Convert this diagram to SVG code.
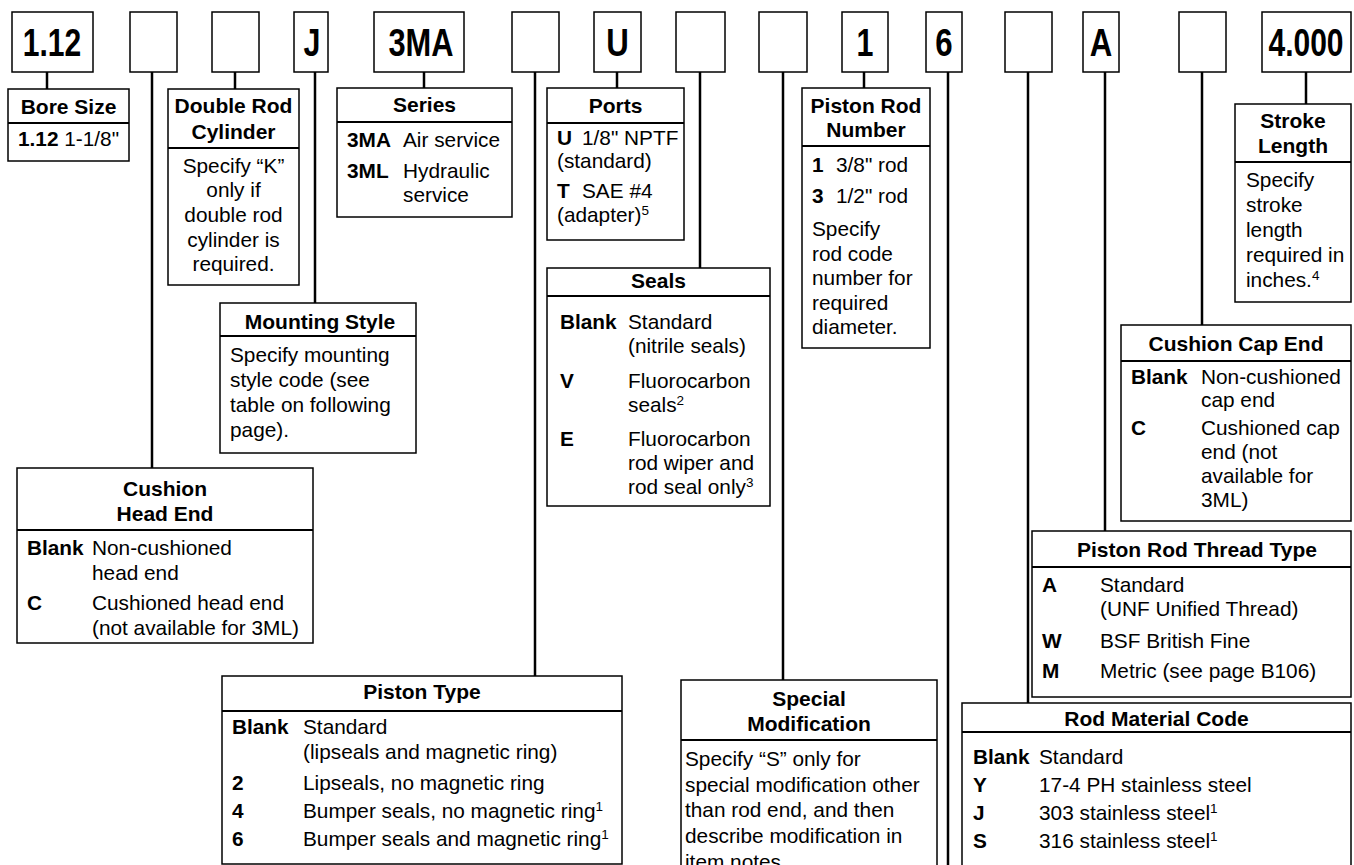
<svg xmlns="http://www.w3.org/2000/svg" width="1354" height="865" viewBox="0 0 1354 865">
<style>
.bx{fill:#fff;stroke:#000;stroke-width:1.5}
.dv{stroke:#000;stroke-width:2.2}
.con{stroke:#000;stroke-width:2.5;fill:none}
text{font-family:"Liberation Sans",Arial,Helvetica,sans-serif;fill:#000}
.code{font-weight:bold;font-size:39px;text-anchor:middle}
.h{font-weight:bold;font-size:21px;text-anchor:middle}
.t{font-size:20.8px}
.c{text-anchor:middle}
.b{font-weight:bold}
.sup{font-size:13.5px}
</style>
<rect width="1354" height="865" fill="#fff"/>
<g id="connectors">
<path class="con" d="M47 72V89M152 72V468M235 72V89M315 72V303M424 72V88M535 72V676M617 72V88M700 72V268M783 72V680M864 72V88M948 72V865M1028 72V703M1105 72V531M1202 72V325M1306 72V104"/>
</g>
<g id="codes">
<rect class="bx" x="12" y="12" width="81" height="60"/><text class="code" transform="translate(52 55.5) scale(0.77 1)">1.12</text>
<rect class="bx" x="130" y="12" width="47" height="60"/>
<rect class="bx" x="212" y="12" width="47" height="60"/>
<rect class="bx" x="294" y="12" width="34" height="60"/><text class="code" transform="translate(312 55.5) scale(0.78 1)">J</text>
<rect class="bx" x="374" y="12" width="90" height="60"/><text class="code" transform="translate(421 55.5) scale(0.79 1)">3MA</text>
<rect class="bx" x="512" y="12" width="47" height="60"/>
<rect class="bx" x="594" y="12" width="47" height="60"/><text class="code" transform="translate(617.5 55.5) scale(0.8 1)">U</text>
<rect class="bx" x="676" y="12" width="49" height="60"/>
<rect class="bx" x="759" y="12" width="48" height="60"/>
<rect class="bx" x="842" y="12" width="46" height="60"/><text class="code" transform="translate(865 55.5) scale(0.78 1)">1</text>
<rect class="bx" x="926" y="12" width="36" height="60"/><text class="code" transform="translate(944 55.5) scale(0.8 1)">6</text>
<rect class="bx" x="1005" y="12" width="47" height="60"/>
<rect class="bx" x="1083" y="12" width="36" height="60"/><text class="code" transform="translate(1101 55.5) scale(0.8 1)">A</text>
<rect class="bx" x="1179" y="12" width="47" height="60"/>
<rect class="bx" x="1262" y="12" width="89" height="60"/><text class="code" transform="translate(1306 55.5) scale(0.77 1)">4.000</text>
</g>
<g id="bore-size">
<rect class="bx" x="8" y="89" width="121" height="72"/><line class="dv" x1="8" y1="123" x2="129" y2="123"/>
<text class="h" x="68.5" y="114">Bore Size</text>
<text class="t" x="18" y="146"><tspan class="b">1.12</tspan> 1-1/8"</text>
</g>
<g id="double-rod">
<rect class="bx" x="168" y="89" width="131" height="196"/><line class="dv" x1="168" y1="148" x2="299" y2="148"/>
<text class="h" x="233.5" y="113">Double Rod</text><text class="h" x="233.5" y="139">Cylinder</text>
<text class="t c" x="233.5" y="173">Specify “K”</text>
<text class="t c" x="233.5" y="197">only if</text>
<text class="t c" x="233.5" y="222">double rod</text>
<text class="t c" x="233.5" y="247">cylinder is</text>
<text class="t c" x="233.5" y="271">required.</text>
</g>
<g id="series">
<rect class="bx" x="337" y="88" width="175" height="129"/><line class="dv" x1="337" y1="122" x2="512" y2="122"/>
<text class="h" x="424.5" y="112">Series</text>
<text class="t b" x="347" y="147">3MA</text><text class="t" x="403" y="147">Air service</text>
<text class="t b" x="347" y="178">3ML</text><text class="t" x="403" y="178">Hydraulic</text>
<text class="t" x="403" y="202">service</text>
</g>
<g id="ports">
<rect class="bx" x="547" y="88" width="137" height="152"/><line class="dv" x1="547" y1="123" x2="684" y2="123"/>
<text class="h" x="615.5" y="113">Ports</text>
<text class="t b" x="557" y="145">U</text><text class="t" x="582" y="145">1/8" NPTF</text>
<text class="t" x="557" y="168">(standard)</text>
<text class="t b" x="557" y="198">T</text><text class="t" x="582" y="198">SAE #4</text>
<text class="t" x="557" y="222">(adapter)<tspan class="sup" dy="-7">5</tspan></text>
</g>
<g id="mounting-style">
<rect class="bx" x="220" y="303" width="196" height="150"/><line class="dv" x1="220" y1="336" x2="416" y2="336"/>
<text class="h" x="320" y="329">Mounting Style</text>
<text class="t" x="230" y="362">Specify mounting</text>
<text class="t" x="230" y="387">style code (see</text>
<text class="t" x="230" y="412">table on following</text>
<text class="t" x="230" y="437">page).</text>
</g>
<g id="cushion-head-end">
<rect class="bx" x="17" y="468" width="296" height="175"/><line class="dv" x1="17" y1="530" x2="313" y2="530"/>
<text class="h" x="165" y="496">Cushion</text><text class="h" x="165" y="521">Head End</text>
<text class="t b" x="27" y="555">Blank</text><text class="t" x="92" y="555">Non-cushioned</text>
<text class="t" x="92" y="580">head end</text>
<text class="t b" x="27" y="610">C</text><text class="t" x="92" y="610">Cushioned head end</text>
<text class="t" x="92" y="635">(not available for 3ML)</text>
</g>
<g id="seals">
<rect class="bx" x="547" y="268" width="223" height="238"/><line class="dv" x1="547" y1="296" x2="770" y2="296"/>
<text class="h" x="658.5" y="288">Seals</text>
<text class="t b" x="560" y="329">Blank</text><text class="t" x="628" y="329">Standard</text>
<text class="t" x="628" y="353">(nitrile seals)</text>
<text class="t b" x="560" y="388">V</text><text class="t" x="628" y="388">Fluorocarbon</text>
<text class="t" x="628" y="412">seals<tspan class="sup" dy="-7">2</tspan></text>
<text class="t b" x="560" y="446">E</text><text class="t" x="628" y="446">Fluorocarbon</text>
<text class="t" x="628" y="470">rod wiper and</text>
<text class="t" x="628" y="494">rod seal only<tspan class="sup" dy="-7">3</tspan></text>
</g>
<g id="piston-rod-number">
<rect class="bx" x="802" y="88" width="128" height="260"/><line class="dv" x1="802" y1="146" x2="930" y2="146"/>
<text class="h" x="866" y="113">Piston Rod</text><text class="h" x="866" y="137">Number</text>
<text class="t b" x="812" y="172">1</text><text class="t" x="836" y="172">3/8" rod</text>
<text class="t b" x="812" y="203">3</text><text class="t" x="836" y="203">1/2" rod</text>
<text class="t" x="812" y="236">Specify</text>
<text class="t" x="812" y="260.5">rod code</text>
<text class="t" x="812" y="285">number for</text>
<text class="t" x="812" y="309.5">required</text>
<text class="t" x="812" y="334">diameter.</text>
</g>
<g id="stroke-length">
<rect class="bx" x="1235" y="104" width="116" height="198"/><line class="dv" x1="1235" y1="162" x2="1351" y2="162"/>
<text class="h" x="1293" y="128">Stroke</text><text class="h" x="1293" y="153">Length</text>
<text class="t" x="1246" y="187">Specify</text>
<text class="t" x="1246" y="212">stroke</text>
<text class="t" x="1246" y="237">length</text>
<text class="t" x="1246" y="262">required in</text>
<text class="t" x="1246" y="287">inches.<tspan class="sup" dy="-7">4</tspan></text>
</g>
<g id="cushion-cap-end">
<rect class="bx" x="1121" y="325" width="230" height="196"/><line class="dv" x1="1121" y1="361" x2="1351" y2="361"/>
<text class="h" x="1236" y="351">Cushion Cap End</text>
<text class="t b" x="1131" y="384">Blank</text><text class="t" x="1201" y="384">Non-cushioned</text>
<text class="t" x="1201" y="407">cap end</text>
<text class="t b" x="1131" y="435">C</text><text class="t" x="1201" y="435">Cushioned cap</text>
<text class="t" x="1201" y="459">end (not</text>
<text class="t" x="1201" y="483">available for</text>
<text class="t" x="1201" y="507">3ML)</text>
</g>
<g id="piston-rod-thread-type">
<rect class="bx" x="1032" y="531" width="319" height="166"/><line class="dv" x1="1032" y1="567" x2="1351" y2="567"/>
<text class="h" x="1197" y="557">Piston Rod Thread Type</text>
<text class="t b" x="1042" y="592">A</text><text class="t" x="1100" y="592">Standard</text>
<text class="t" x="1100" y="616">(UNF Unified Thread)</text>
<text class="t b" x="1042" y="648">W</text><text class="t" x="1100" y="648">BSF British Fine</text>
<text class="t b" x="1042" y="678">M</text><text class="t" x="1100" y="678">Metric (see page B106)</text>
</g>
<g id="piston-type">
<rect class="bx" x="222" y="676" width="400" height="188"/><line class="dv" x1="222" y1="711" x2="622" y2="711"/>
<text class="h" x="422" y="699">Piston Type</text>
<text class="t b" x="232" y="734">Blank</text><text class="t" x="303" y="734">Standard</text>
<text class="t" x="303" y="759">(lipseals and magnetic ring)</text>
<text class="t b" x="232" y="790">2</text><text class="t" x="303" y="790">Lipseals, no magnetic ring</text>
<text class="t b" x="232" y="818">4</text><text class="t" x="303" y="818">Bumper seals, no magnetic ring<tspan class="sup" dy="-7">1</tspan></text>
<text class="t b" x="232" y="846">6</text><text class="t" x="303" y="846">Bumper seals and magnetic ring<tspan class="sup" dy="-7">1</tspan></text>
</g>
<g id="special-modification">
<rect class="bx" x="681" y="680" width="256" height="220"/><line class="dv" x1="681" y1="740" x2="937" y2="740"/>
<text class="h" x="809" y="706">Special</text><text class="h" x="809" y="731">Modification</text>
<text class="t" x="685" y="766">Specify “S” only for</text>
<text class="t" x="685" y="792">special modification other</text>
<text class="t" x="685" y="817">than rod end, and then</text>
<text class="t" x="685" y="843">describe modification in</text>
<text class="t" x="685" y="869">item notes.</text>
</g>
<g id="rod-material-code">
<rect class="bx" x="962" y="703" width="389" height="200"/><line class="dv" x1="962" y1="732" x2="1351" y2="732"/>
<text class="h" x="1156.5" y="726">Rod Material Code</text>
<text class="t b" x="973" y="764">Blank</text><text class="t" x="1039" y="764">Standard</text>
<text class="t b" x="973" y="792">Y</text><text class="t" x="1039" y="792">17-4 PH stainless steel</text>
<text class="t b" x="973" y="820">J</text><text class="t" x="1039" y="820">303 stainless steel<tspan class="sup" dy="-7">1</tspan></text>
<text class="t b" x="973" y="848">S</text><text class="t" x="1039" y="848">316 stainless steel<tspan class="sup" dy="-7">1</tspan></text>
</g>
</svg>
